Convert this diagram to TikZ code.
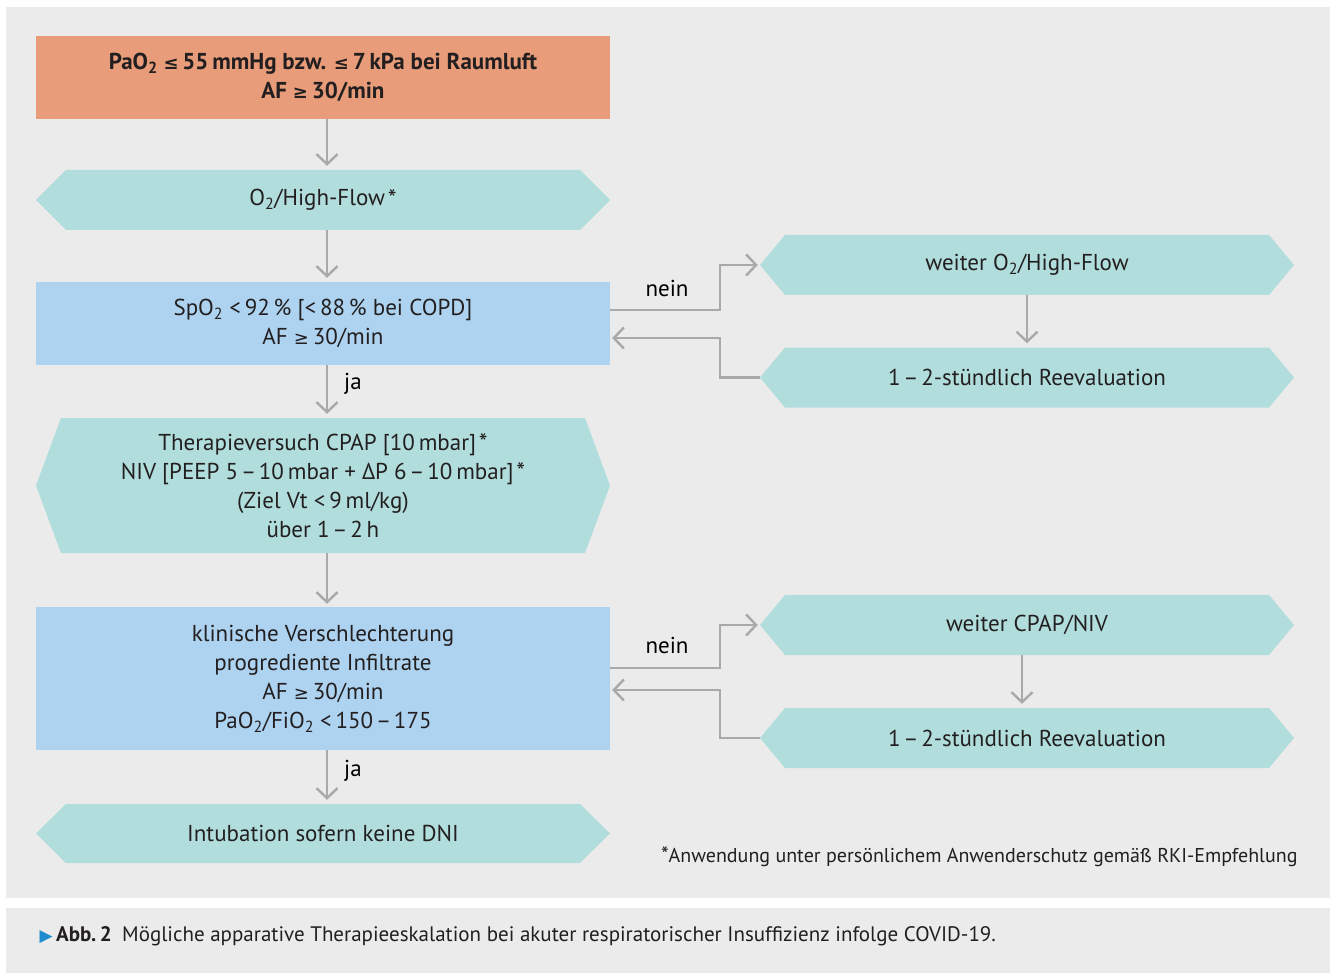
\documentclass[tikz,border=0pt]{standalone}
\usepackage{fontspec}
\setmainfont{PT Sans}
\newfontfamily\symfont{DejaVu Sans}
\usetikzlibrary{arrows.meta,positioning}

\definecolor{panelgrey}{RGB}{234,235,234}
\definecolor{startorange}{RGB}{232,156,121}
\definecolor{stepteal}{RGB}{177,222,221}
\definecolor{checkblue}{RGB}{174,211,240}
\definecolor{linegrey}{RGB}{168,169,171}
\definecolor{textdark}{RGB}{35,31,32}
\definecolor{markblue}{RGB}{30,140,205}

\newcommand{\boxfont}{\fontsize{23pt}{29pt}\selectfont}
\newcommand{\twosub}{\textsubscript{2}}
\newcommand{\fnmark}{\kern0.12em\raisebox{-0.1ex}{\fontsize{25pt}{25pt}\selectfont *}}
\newcommand{\rng}{\kern0.12em–\kern0.12em}
\newcommand{\lesym}{{\symfont\fontsize{18pt}{18pt}\selectfont ≤}}
\newcommand{\gesym}{{\symfont\fontsize{18pt}{18pt}\selectfont ≥}}

\tikzset{
  box/.style={fill=#1, minimum width=574pt, inner sep=0pt, align=center, text=textdark},
  hexa/.style={fill=panelgrey, minimum height=60pt, inner sep=0pt, align=center, text=textdark,
    path picture={\fill[stepteal] (path picture bounding box.west)
      -- ([xshift=#1pt]path picture bounding box.north west)
      -- ([xshift=-#1pt]path picture bounding box.north east)
      -- (path picture bounding box.east)
      -- ([xshift=-#1pt]path picture bounding box.south east)
      -- ([xshift=#1pt]path picture bounding box.south west) -- cycle;}},
  arr/.style={draw=linegrey, line width=2.4pt, -{Straight Barb[length=10pt,width=21pt,line width=2.4pt]}},
}

\begin{document}
\begin{tikzpicture}[x=1pt, y=-1pt, font=\boxfont]
\useasboundingbox (0,0) rectangle (1335,973);
\fill[white] (0,0) rectangle (1335,973);
\fill[panelgrey] (6,7) rectangle (1330,898);
\fill[panelgrey] (6,908) rectangle (1330,973);

% left column
\node[box=startorange, minimum height=83pt, font=\boxfont\bfseries] (start) at (323,77.5)
  {PaO\twosub\ \lesym\,55\,mmHg bzw. \lesym\,7\,kPa bei Raumluft\\AF \gesym\,30/min};
\node[hexa=30, minimum width=574pt] (oxy) at (323,200) {O\twosub/High-Flow\fnmark};
\node[box=checkblue, minimum height=83pt] (spo) at (323,323.5)
  {SpO\twosub\ <\,92\,\% [<\,88\,\% bei COPD]\\AF \gesym\,30/min};
\node[hexa=25, minimum width=574pt, minimum height=135pt] (cpap) at (323,485.5)
  {Therapieversuch CPAP [10\,mbar]\fnmark\\NIV [PEEP 5\rng10\,mbar + ΔP 6\rng10\,mbar]\fnmark\\(Ziel Vt <\,9\,ml/kg)\\über 1\rng2\,h};
\node[box=checkblue, minimum height=143pt] (worse) at (323,678.5)
  {klinische Verschlechterung\\progrediente Infiltrate\\AF \gesym\,30/min\\PaO\twosub/FiO\twosub\ <\,150\rng175};
\node[hexa=30, minimum width=574pt, minimum height=59pt] (intub) at (323,833.5) {Intubation sofern keine DNI};

% right column
\node[hexa=25, minimum width=534pt] (moreoxy) at (1027,265) {weiter O\twosub/High-Flow};
\node[hexa=25, minimum width=534pt] (eval1) at (1027,377.5) {1\rng2-stündlich Reevaluation};
\node[hexa=25, minimum width=534pt] (morecpap) at (1027,625) {weiter CPAP/NIV};
\node[hexa=25, minimum width=534pt] (eval2) at (1027,738) {1\rng2-stündlich Reevaluation};

% labels
\node (nein1) at (667,288) {nein};
\node (nein2) at (667,645) {nein};
\node (ja1) at (353,384) {ja};
\node (ja2) at (353,771) {ja};
\node[anchor=east, font=\fontsize{20pt}{22pt}\selectfont, text=textdark] (note) at (1301,857)
  {{\fontsize{22pt}{22pt}\selectfont *}Anwendung unter persönlichem Anwenderschutz gemäß RKI-Empfehlung};
\node[anchor=west, font=\fontsize{21pt}{24pt}\selectfont, text=textdark] (caption) at (36,936)
  {{\symfont\fontsize{17pt}{17pt}\selectfont\color{markblue}▶}\,\textbf{Abb.\,2}\enspace Mögliche apparative Therapieeskalation bei akuter respiratorischer Insuffizienz infolge COVID-19.};

% connectors
\draw[arr, shorten >=4pt] ([xshift=4pt]start.south) -- ([xshift=4pt]oxy.north);
\draw[arr, shorten >=4pt] ([xshift=4pt]oxy.south) -- ([xshift=4pt]spo.north);
\draw[arr, shorten >=4pt] ([xshift=4pt]spo.south) -- ([xshift=4pt]cpap.north);
\draw[arr, shorten >=3pt] ([xshift=4pt]cpap.south) -- ([xshift=4pt]worse.north);
\draw[arr, shorten >=4pt] ([xshift=4pt]worse.south) -- ([xshift=4pt]intub.north);

\draw[arr, shorten >=2pt] ([yshift=13.5pt]spo.east) -- ++(110,0) |- (moreoxy.west);
\draw[arr, shorten >=2pt] (eval1.west) -- ++(-40,0) |- ([yshift=-14.5pt]spo.east);
\draw[arr, shorten >=4pt] (moreoxy.south) -- (eval1.north);

\draw[arr, shorten >=2pt] ([yshift=10.5pt]worse.east) -- ++(110,0) |- (morecpap.west);
\draw[arr, shorten >=2pt] (eval2.west) -- ++(-40,0) |- ([yshift=-11.5pt]worse.east);
\draw[arr, shorten >=4pt] ([xshift=-5pt]morecpap.south) -- ([xshift=-5pt]eval2.north);
\end{tikzpicture}
\end{document}
